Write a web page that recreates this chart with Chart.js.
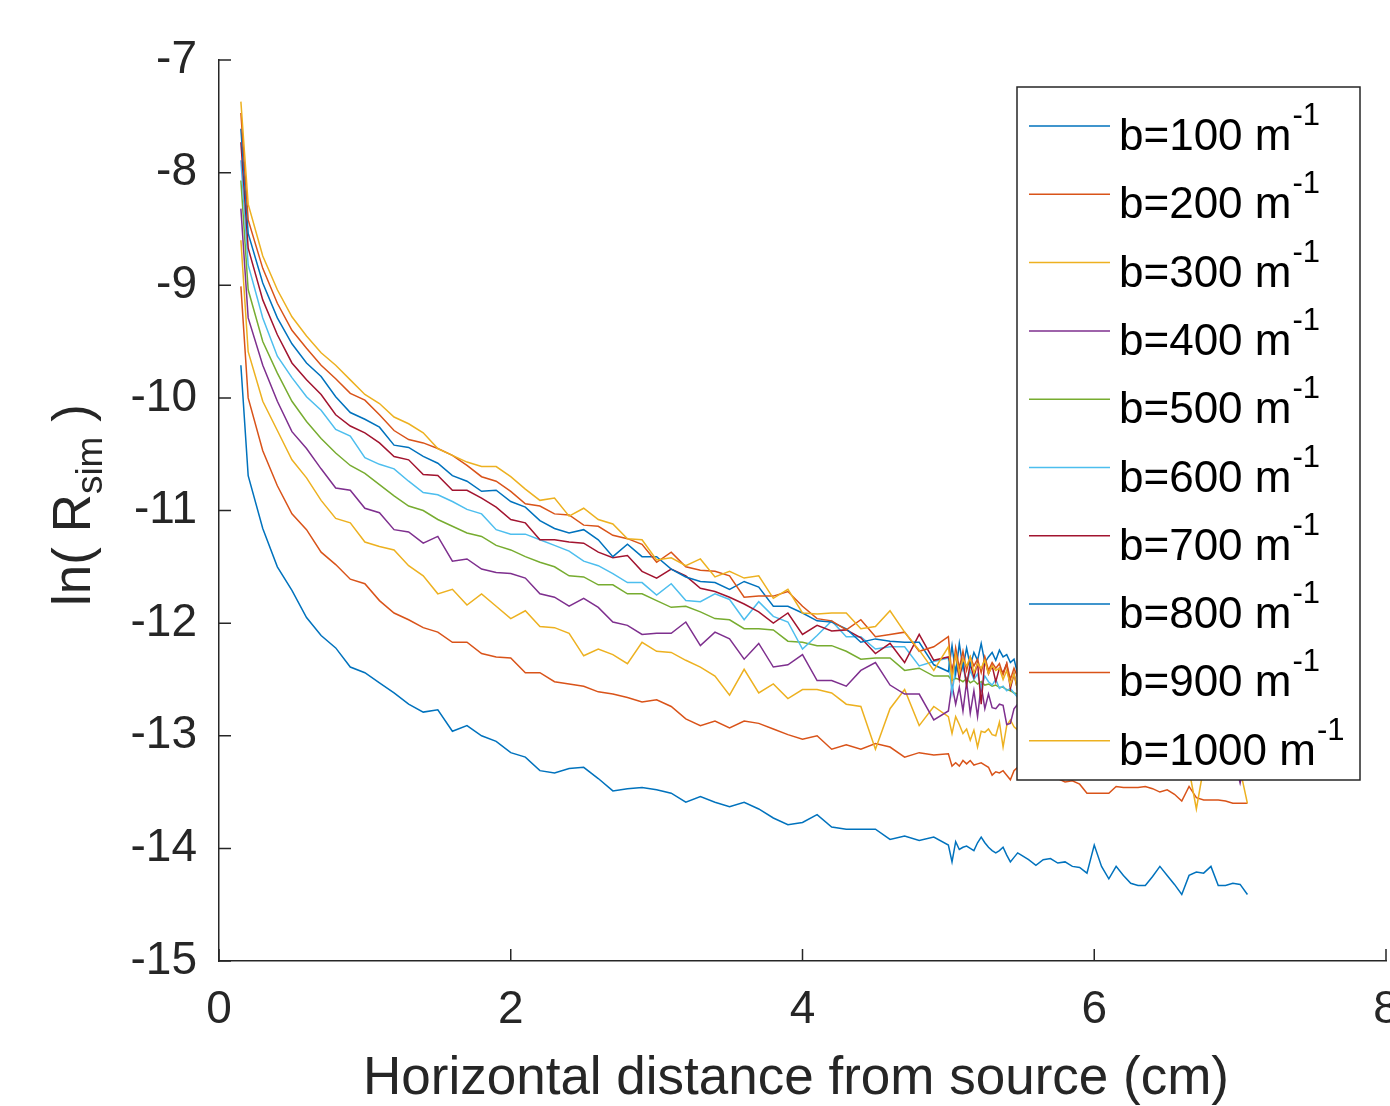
<!DOCTYPE html>
<html><head><meta charset="utf-8">
<script src="https://cdn.jsdelivr.net/npm/chart.js@4.4.1/dist/chart.umd.min.js"></script>
<style>html,body{margin:0;padding:0;background:#fff;} canvas{display:block;}</style>
</head><body>
<canvas id="c" width="1390" height="1106"></canvas>
<script>
// ---------- data ----------
const xs = [0.15, 0.2, 0.3, 0.4, 0.5, 0.6, 0.7, 0.8, 0.9, 1.0,
  1.1, 1.2, 1.3, 1.4, 1.5, 1.6, 1.7, 1.8, 1.9, 2.0,
  2.1, 2.2, 2.3, 2.4, 2.5, 2.6, 2.7, 2.8, 2.9, 3.0,
  3.1, 3.2, 3.3, 3.4, 3.5, 3.6, 3.7, 3.8, 3.9, 4.0,
  4.1, 4.2, 4.3, 4.4, 4.5, 4.6, 4.7, 4.8, 4.9,
  5.0, 5.025, 5.05, 5.075, 5.1, 5.125, 5.15, 5.175, 5.2, 5.225, 5.25, 5.275, 5.3, 5.325, 5.35, 5.375, 5.4, 5.425, 5.45, 5.475, 5.5,
  5.55, 5.6, 5.65, 5.7, 5.75, 5.8, 5.85, 5.9, 5.95, 6.0, 6.05, 6.1, 6.15, 6.2, 6.25, 6.3, 6.35, 6.4, 6.45, 6.5,
  6.55, 6.6, 6.65, 6.7, 6.75, 6.8, 6.85, 6.9, 6.95, 7.0, 7.05];

const xTickValues = [0, 2, 4, 6, 8];
const yTickValues = [-15, -14, -13, -12, -11, -10, -9, -8, -7];
const bValues = [100, 200, 300, 400, 500, 600, 700, 800, 900, 1000];

const b100 = [-9.71, -10.69, -11.16, -11.50, -11.71, -11.95, -12.11, -12.22, -12.39, -12.44,
  -12.53, -12.62, -12.72, -12.79, -12.77, -12.96, -12.91, -13.00, -13.05, -13.15,
  -13.19, -13.31, -13.33, -13.29, -13.28, -13.38, -13.49, -13.47, -13.46, -13.48,
  -13.51, -13.59, -13.54, -13.59, -13.63, -13.59, -13.65, -13.73, -13.79, -13.77,
  -13.70, -13.81, -13.83, -13.83, -13.83, -13.92, -13.89, -13.93, -13.90,
  -13.97, -14.12, -13.94, -14.01, -13.99, -13.98, -14.00, -14.02, -13.95, -13.90, -13.95, -13.99, -14.02, -14.04, -14.02, -13.99, -14.06, -14.12, -14.08, -14.04, -14.06,
  -14.10, -14.15, -14.10, -14.09, -14.13, -14.12, -14.16, -14.17, -14.22, -13.97, -14.16, -14.27, -14.16, -14.24, -14.31, -14.33, -14.33, -14.25, -14.16, -14.24,
  -14.32, -14.41, -14.24, -14.21, -14.22, -14.16, -14.33, -14.33, -14.31, -14.32, -14.41];

const b200 = [-9.01, -10.00, -10.47, -10.78, -11.03, -11.17, -11.37, -11.48, -11.61, -11.65,
  -11.80, -11.91, -11.97, -12.04, -12.08, -12.17, -12.17, -12.27, -12.30, -12.31,
  -12.44, -12.44, -12.52, -12.54, -12.56, -12.61, -12.63, -12.66, -12.70, -12.68,
  -12.74, -12.85, -12.91, -12.87, -12.93, -12.87, -12.89, -12.94, -12.99, -13.03,
  -13.00, -13.12, -13.08, -13.12, -13.07, -13.10, -13.19, -13.15, -13.17,
  -13.16, -13.27, -13.24, -13.27, -13.22, -13.25, -13.22, -13.26, -13.25, -13.24, -13.26, -13.28, -13.35, -13.32, -13.33, -13.31, -13.35, -13.39, -13.31, -13.28, -13.28,
  -13.30, -13.33, -13.36, -13.33, -13.38, -13.41, -13.40, -13.43, -13.51, -13.51, -13.51, -13.51, -13.45, -13.46, -13.46, -13.46, -13.45, -13.47, -13.50, -13.48,
  -13.52, -13.58, -13.45, -13.55, -13.57, -13.57, -13.57, -13.58, -13.60, -13.60, -13.60];

const b300 = [-8.60, -9.59, -10.03, -10.29, -10.55, -10.71, -10.91, -11.07, -11.11, -11.28,
  -11.32, -11.35, -11.49, -11.58, -11.74, -11.70, -11.84, -11.74, -11.85, -11.96,
  -11.89, -12.03, -12.04, -12.09, -12.29, -12.23, -12.28, -12.36, -12.17, -12.25,
  -12.26, -12.33, -12.39, -12.47, -12.64, -12.41, -12.62, -12.54, -12.67, -12.59,
  -12.59, -12.62, -12.72, -12.74, -13.12, -12.76, -12.59, -12.91, -12.74,
  -12.83, -12.98, -12.83, -12.90, -12.98, -12.94, -13.04, -12.95, -13.10, -12.96, -12.97, -12.94, -12.99, -13.00, -12.88, -13.10, -12.91, -12.86, -12.92, -12.95, -12.90,
  -12.97, -13.02, -12.95, -13.05, -13.10, -13.02, -13.12, -13.08, -13.15, -13.10, -13.18, -13.12, -13.20, -13.15, -13.22, -13.18, -13.24, -13.20, -13.26, -13.22,
  -13.28, -13.25, -13.30, -13.65, -13.28, -13.30, -13.26, -13.32, -13.28, -13.30, -13.60];

const b400 = [-8.32, -9.29, -9.71, -10.03, -10.30, -10.45, -10.63, -10.80, -10.82, -10.98,
  -11.02, -11.17, -11.19, -11.29, -11.23, -11.45, -11.43, -11.52, -11.55, -11.56,
  -11.60, -11.74, -11.77, -11.85, -11.78, -11.86, -11.99, -12.02, -12.10, -12.09,
  -12.09, -11.99, -12.20, -12.08, -12.14, -12.32, -12.18, -12.39, -12.37, -12.28,
  -12.51, -12.51, -12.56, -12.42, -12.35, -12.55, -12.63, -12.63, -12.86,
  -12.78, -12.55, -12.72, -12.57, -12.78, -12.52, -12.80, -12.60, -12.83, -12.55, -12.76, -12.63, -12.75, -12.76, -12.72, -12.73, -12.90, -12.89, -12.76, -12.72, -12.78,
  -12.80, -12.76, -12.84, -12.82, -12.87, -12.84, -12.90, -12.88, -12.93, -12.90, -12.96, -12.93, -12.98, -12.95, -13.00, -12.97, -13.02, -13.00, -13.05, -13.02,
  -13.08, -13.04, -13.10, -13.06, -13.12, -13.08, -13.14, -13.10, -13.15, -13.42, -13.12];

const b500 = [-8.07, -9.04, -9.50, -9.78, -10.03, -10.21, -10.36, -10.49, -10.60, -10.67,
  -10.77, -10.87, -10.96, -11.00, -11.08, -11.14, -11.20, -11.23, -11.31, -11.35,
  -11.41, -11.46, -11.50, -11.58, -11.59, -11.66, -11.66, -11.74, -11.74, -11.80,
  -11.86, -11.85, -11.90, -11.96, -11.97, -12.05, -12.05, -12.06, -12.16, -12.17,
  -12.20, -12.20, -12.25, -12.32, -12.31, -12.31, -12.42, -12.40, -12.47,
  -12.47, -12.51, -12.49, -12.50, -12.52, -12.49, -12.53, -12.51, -12.54, -12.52, -12.55, -12.54, -12.56, -12.55, -12.57, -12.57, -12.59, -12.60, -12.62, -12.63, -12.64,
  -12.66, -12.65, -12.69, -12.70, -12.68, -12.73, -12.72, -12.75, -12.74, -12.78, -12.77, -12.80, -12.79, -12.82, -12.81, -12.84, -12.83, -12.86, -12.85, -12.88,
  -12.87, -12.90, -12.89, -12.92, -12.91, -12.94, -12.93, -12.96, -12.95, -12.98, -12.97];

const b600 = [-7.89, -8.82, -9.29, -9.63, -9.82, -9.99, -10.11, -10.28, -10.34, -10.53,
  -10.59, -10.63, -10.74, -10.84, -10.86, -10.92, -10.99, -11.03, -11.17, -11.21,
  -11.21, -11.26, -11.31, -11.36, -11.45, -11.49, -11.56, -11.64, -11.64, -11.75,
  -11.65, -11.80, -11.81, -11.74, -11.79, -11.97, -11.81, -11.94, -11.99, -12.23,
  -12.11, -11.98, -12.12, -12.12, -12.23, -12.21, -12.21, -12.38, -12.34,
  -12.31, -12.62, -12.40, -12.45, -12.38, -12.55, -12.42, -12.50, -12.45, -12.58, -12.47, -12.52, -12.55, -12.50, -12.58, -12.56, -12.60, -12.58, -12.62, -12.66, -12.68,
  -12.70, -12.66, -12.74, -12.71, -12.76, -12.72, -12.80, -12.75, -12.82, -12.78, -12.84, -12.80, -12.88, -12.83, -12.90, -12.86, -12.85, -12.92, -12.88, -12.95,
  -12.90, -12.97, -12.93, -12.99, -12.95, -13.02, -12.97, -13.04, -13.00, -13.06, -13.03];

const b700 = [-7.73, -8.67, -9.13, -9.44, -9.69, -9.84, -9.97, -10.15, -10.25, -10.31,
  -10.40, -10.52, -10.55, -10.68, -10.69, -10.82, -10.82, -10.89, -10.97, -11.08,
  -11.11, -11.26, -11.26, -11.28, -11.29, -11.37, -11.42, -11.40, -11.54, -11.60,
  -11.52, -11.58, -11.69, -11.72, -11.77, -11.83, -11.90, -12.00, -11.91, -12.10,
  -12.02, -12.07, -12.06, -12.13, -12.27, -12.18, -12.35, -12.10, -12.33,
  -12.30, -12.42, -12.28, -12.50, -12.33, -12.55, -12.36, -12.48, -12.35, -12.72, -12.32, -12.45, -12.38, -12.52, -12.40, -12.44, -12.36, -12.58, -12.45, -12.60, -12.55,
  -12.55, -12.62, -12.58, -12.66, -12.60, -12.70, -12.64, -12.72, -12.68, -12.75, -12.70, -12.78, -12.74, -12.80, -12.76, -12.83, -12.79, -12.86, -12.81, -12.88,
  -12.84, -12.91, -12.86, -12.93, -12.89, -12.96, -12.91, -12.98, -12.94, -13.00, -12.97];

const b800 = [-7.61, -8.54, -8.98, -9.29, -9.52, -9.69, -9.81, -9.99, -10.13, -10.19,
  -10.26, -10.42, -10.44, -10.52, -10.58, -10.69, -10.74, -10.83, -10.82, -10.92,
  -10.97, -11.09, -11.16, -11.20, -11.17, -11.26, -11.41, -11.30, -11.41, -11.41,
  -11.52, -11.59, -11.63, -11.64, -11.70, -11.63, -11.68, -11.85, -11.85, -11.91,
  -11.98, -11.99, -12.05, -12.17, -12.14, -12.16, -12.17, -12.17, -12.37,
  -12.43, -12.20, -12.45, -12.18, -12.40, -12.22, -12.38, -12.26, -12.33, -12.18, -12.35, -12.30, -12.26, -12.33, -12.24, -12.30, -12.28, -12.35, -12.32, -12.45, -12.50,
  -12.48, -12.52, -12.47, -12.56, -12.53, -12.60, -12.55, -12.63, -12.58, -12.66, -12.62, -12.69, -12.64, -12.72, -12.68, -12.75, -12.70, -12.78, -12.73, -12.80,
  -12.76, -12.83, -12.79, -12.86, -12.81, -12.89, -12.84, -12.91, -12.87, -12.94, -12.90];

const b900 = [-7.47, -8.42, -8.85, -9.16, -9.40, -9.56, -9.71, -9.83, -9.96, -10.02,
  -10.15, -10.29, -10.37, -10.40, -10.45, -10.51, -10.60, -10.70, -10.74, -10.83,
  -10.94, -10.96, -11.03, -11.04, -11.13, -11.14, -11.22, -11.25, -11.30, -11.46,
  -11.37, -11.50, -11.53, -11.54, -11.58, -11.77, -11.76, -11.76, -11.72, -11.85,
  -11.96, -11.98, -12.06, -11.97, -12.12, -12.10, -12.08, -12.25, -12.21,
  -12.12, -12.48, -12.22, -12.40, -12.25, -12.42, -12.30, -12.38, -12.32, -12.44, -12.30, -12.42, -12.35, -12.40, -12.36, -12.46, -12.36, -12.50, -12.40, -12.48, -12.42,
  -12.45, -12.50, -12.46, -12.55, -12.52, -12.58, -12.54, -12.62, -12.57, -12.65, -12.60, -12.68, -12.63, -12.71, -12.66, -12.74, -12.69, -12.77, -12.72, -12.80,
  -12.75, -12.83, -12.78, -12.86, -12.81, -12.88, -12.84, -12.91, -12.87, -12.93, -12.90];

const b1000 = [-7.37, -8.28, -8.74, -9.04, -9.28, -9.45, -9.60, -9.71, -9.84, -9.97,
  -10.05, -10.17, -10.23, -10.31, -10.45, -10.51, -10.57, -10.61, -10.61, -10.70,
  -10.81, -10.91, -10.89, -11.05, -10.98, -11.08, -11.12, -11.25, -11.26, -11.44,
  -11.42, -11.49, -11.43, -11.59, -11.54, -11.60, -11.58, -11.78, -11.70, -11.91,
  -11.92, -11.91, -11.91, -12.05, -12.03, -11.89, -12.08, -12.24, -12.42,
  -12.21, -12.50, -12.28, -12.45, -12.32, -12.38, -12.30, -12.44, -12.36, -12.40, -12.33, -12.45, -12.38, -12.42, -12.40, -12.50, -12.42, -12.55, -12.45, -12.60, -12.55,
  -12.58, -12.52, -12.62, -12.56, -12.66, -12.60, -12.70, -12.64, -12.73, -12.68, -12.76, -12.71, -12.80, -12.74, -12.83, -12.78, -12.86, -12.81, -12.89, -12.84,
  -12.92, -12.87, -12.95, -12.90, -12.98, -12.93, -13.01, -12.96, -13.04, -12.99, -13.05];

const seriesValues = [b100, b200, b300, b400, b500, b600, b700, b800, b900, b1000];
const seriesColors = ['#0072BD', '#D95319', '#EDB120', '#7E2F8E', '#77AC30', '#4DBEEE', '#A2142F', '#0072BD', '#D95319', '#EDB120'];
const xTitleText = 'Horizontal distance from source (cm)';

// ---------- chart ----------
const FONT = '"Liberation Sans", Arial, Helvetica, sans-serif';
const AX = '#262626';
Chart.defaults.font.family = FONT;

const datasets = seriesValues.map((vals, i) => ({
  label: 'b=' + bValues[i] + ' m',
  data: xs.map((x, j) => ({ x: x, y: vals[j] })),
  borderColor: seriesColors[i],
  backgroundColor: seriesColors[i],
  borderWidth: 1.5,
  pointRadius: 0,
  tension: 0,
  fill: false,
  order: seriesValues.length - i
}));

const innerTicks = {
  id: 'innerTicks',
  afterDatasetsDraw(chart) {
    const { ctx, scales: { x, y } } = chart;
    ctx.save();
    ctx.strokeStyle = AX;
    ctx.lineWidth = 1.5;
    ctx.beginPath();
    yTickValues.forEach(v => {
      const py = y.getPixelForValue(v);
      ctx.moveTo(x.left, py); ctx.lineTo(x.left + 12, py);
    });
    xTickValues.forEach(v => {
      const px = x.getPixelForValue(v);
      ctx.moveTo(px, y.bottom); ctx.lineTo(px, y.bottom - 12);
    });
    ctx.stroke();
    ctx.restore();
  }
};

const axisTitles = {
  id: 'axisTitles',
  afterDraw(chart) {
    const ctx = chart.ctx;
    ctx.save();
    ctx.fillStyle = AX;
    // x title
    ctx.font = '53px ' + FONT;
    ctx.textAlign = 'center';
    ctx.textBaseline = 'alphabetic';
    ctx.fillText(xTitleText, 796, 1094);
    // y title with subscript
    ctx.translate(90, 606);
    ctx.rotate(-Math.PI / 2);
    ctx.textAlign = 'left';
    const big = '53px ' + FONT, small = '37px ' + FONT;
    ctx.font = big;
    const p1 = 'ln( R', p3 = ' )';
    const w1 = ctx.measureText(p1).width;
    ctx.fillText(p1, 0, 0);
    ctx.font = small;
    const w2 = ctx.measureText('sim').width;
    ctx.fillText('sim', w1, 12);
    ctx.font = big;
    ctx.fillText(p3, w1 + w2, 0);
    ctx.restore();
  }
};

const boxLegend = {
  id: 'boxLegend',
  afterDraw(chart) {
    const ctx = chart.ctx;
    const L = 1017, T = 87, R = 1360, B = 780;
    ctx.save();
    ctx.fillStyle = '#ffffff';
    ctx.fillRect(L, T, R - L, B - T);
    ctx.strokeStyle = AX;
    ctx.lineWidth = 1.5;
    ctx.strokeRect(L, T, R - L, B - T);
    const step = 68.3;
    chart.data.datasets.forEach((ds, i) => {
      const ly = 126 + i * step;
      ctx.strokeStyle = ds.borderColor;
      ctx.lineWidth = 1.5;
      ctx.beginPath();
      ctx.moveTo(1029, ly); ctx.lineTo(1110, ly);
      ctx.stroke();
      ctx.fillStyle = '#000000';
      ctx.textBaseline = 'alphabetic';
      ctx.textAlign = 'left';
      ctx.font = '44px ' + FONT;
      const base = 150 + i * step;
      ctx.fillText(ds.label, 1119, base);
      const w = ctx.measureText(ds.label).width;
      ctx.font = '31px ' + FONT;
      ctx.fillText('-1', 1119 + w + 1, base - 25);
    });
    ctx.restore();
  }
};

new Chart(document.getElementById('c'), {
  type: 'line',
  data: { datasets: datasets },
  options: {
    responsive: false,
    animation: false,
    devicePixelRatio: 1,
    layout: { padding: { top: 60, right: 4, bottom: 0, left: 0 } },
    plugins: { legend: { display: false }, tooltip: { enabled: false } },
    scales: {
      x: {
        type: 'linear', min: 0, max: 8,
        afterBuildTicks: s => { s.ticks = xTickValues.map(v => ({ value: v })); },
        afterFit: s => { s.height = 145; s.paddingLeft = 0; s.paddingRight = 0; },
        grid: { display: true, drawOnChartArea: false, drawTicks: false },
        border: { display: true, color: AX, width: 1.5 },
        ticks: { color: AX, font: { size: 46 }, padding: 22, maxRotation: 0, autoSkip: false, callback: v => String(v) },
        title: { display: false }
      },
      y: {
        type: 'linear', min: -15, max: -7,
        afterBuildTicks: s => { s.ticks = yTickValues.map(v => ({ value: v })); },
        afterFit: s => { s.width = 219; },
        grid: { display: true, drawOnChartArea: false, drawTicks: false },
        border: { display: true, color: AX, width: 1.5 },
        ticks: { color: AX, font: { size: 46 }, padding: 22, autoSkip: false, callback: v => String(v) }
      }
    }
  },
  plugins: [innerTicks, boxLegend, axisTitles]
});
</script>
</body></html>
